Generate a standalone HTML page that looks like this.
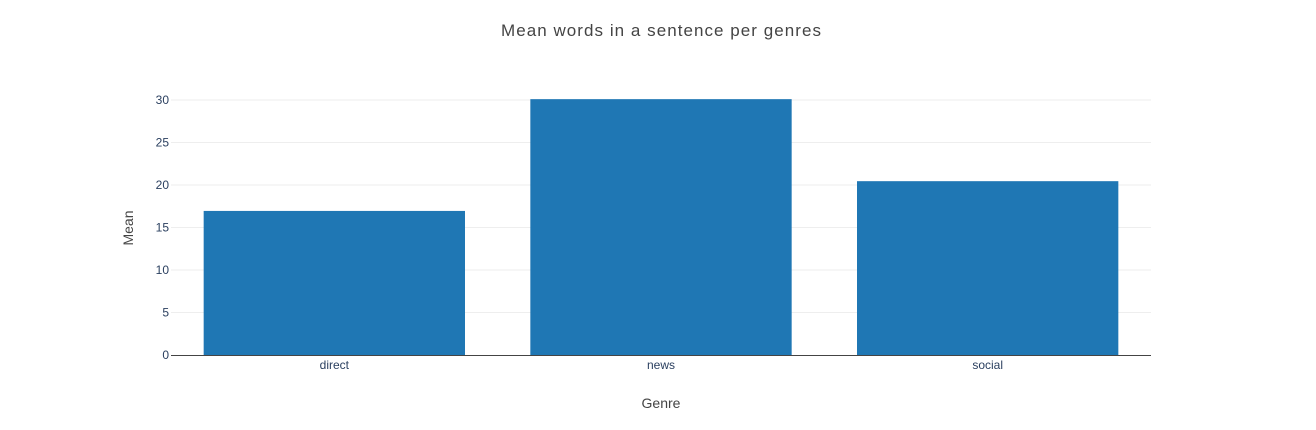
<!DOCTYPE html>
<html><head><meta charset="utf-8"><style>
body{margin:0;background:#fff;font-family:"Liberation Sans",sans-serif;}
svg text{font-family:"Liberation Sans",sans-serif;}
</style></head><body>
<svg id="chart" width="1316" height="425">
<text x="661" y="36" text-anchor="middle" font-size="17" textLength="320" lengthAdjust="spacing" fill="#444">Mean words in a sentence per genres</text>
<g id="grid"></g><g id="bars"></g><g id="axes"></g>
<text x="661" y="408" text-anchor="middle" font-size="14" fill="#444">Genre</text>
<text transform="translate(133,228) rotate(-90)" text-anchor="middle" font-size="14" fill="#444">Mean</text>
</svg>
<script>
const categories = ["direct","news","social"];
const values = [16.95, 30.1, 20.45];
const yTicks = [0,5,10,15,20,25,30];
const NS="http://www.w3.org/2000/svg";
const X0=171,X1=1151,Y0=355,YMAX=30,PX=255;
const y=v=>Y0-v/YMAX*PX;
const bw=(X1-X0)/categories.length;
const xc=i=>X0+bw*(i+0.5);
function mk(t,a,p){const e=document.createElementNS(NS,t);for(const k in a)e.setAttribute(k,a[k]);p.appendChild(e);return e;}
const grid=document.getElementById('grid'),bars=document.getElementById('bars'),axes=document.getElementById('axes');
yTicks.forEach(t=>{
 if(t>0){const g=mk('line',{x1:X0,x2:X1,y1:y(t),y2:y(t),stroke:'#eee','stroke-width':1},grid);
 
 }
 const l=mk('text',{x:X0-2,y:y(t)+4,'text-anchor':'end','font-size':12,fill:'#2a3f5f'},axes);
 l.textContent=t;
 
 
});
categories.forEach((c,i)=>{
 const w=bw*0.8;
 const r=mk('rect',{x:xc(i)-w/2,y:y(values[i]),width:w,height:Y0-y(values[i]),fill:'#1f77b4'},bars);
 
 
 const l=mk('text',{x:xc(i),y:Y0+14,'text-anchor':'middle','font-size':12,fill:'#2a3f5f'},axes);
 l.textContent=c;
 
 
});
const ax=mk('line',{x1:X0,x2:X1,y1:Y0+0.5,y2:Y0+0.5,stroke:'#444','stroke-width':1},axes);


</script>
</body></html>
